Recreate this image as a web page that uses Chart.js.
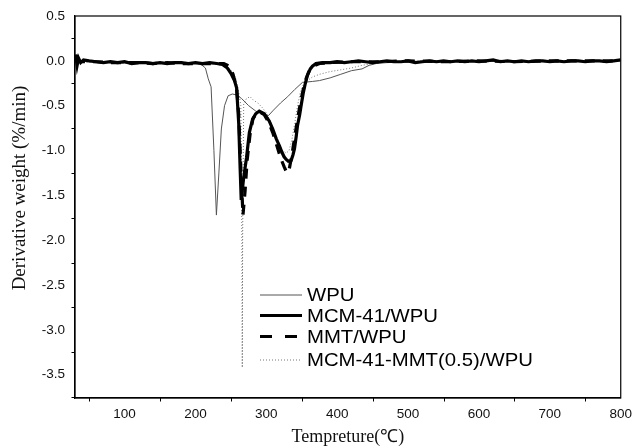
<!DOCTYPE html>
<html>
<head>
<meta charset="utf-8">
<script src="https://cdn.jsdelivr.net/npm/chart.js@4"></script>
<style>
html,body{margin:0;padding:0;background:#fff;}
#wrap{width:634px;height:448px;}
</style>
</head>
<body>
<div id="wrap"><canvas id="c" width="634" height="448"></canvas></div>
<script>
// ---- data ----
const seriesNames = ['WPU', 'MCM-41/WPU', 'MMT/WPU', 'MCM-41-MMT(0.5)/WPU'];

const wpuT = [30, 40, 50, 60, 80, 100, 120, 140, 160, 180,
  200, 208, 214, 218, 222, 226, 229.5, 233, 236.5, 241,
  246, 252, 258, 265, 275, 285, 295, 303, 310, 320,
  330, 340, 351, 365, 375, 390, 405, 420, 435, 445,
  455, 470, 500, 550, 600, 650, 700, 750, 800];
const wpuD = [0.02, -0.01, 0.0, -0.01, -0.02, -0.02, -0.03, -0.03, -0.02, -0.03,
  -0.03, -0.04, -0.08, -0.2, -0.29, -1.0, -1.72, -1.25, -0.76, -0.5,
  -0.39, -0.37, -0.38, -0.42, -0.5, -0.56, -0.6, -0.61, -0.55, -0.47,
  -0.4, -0.32, -0.24, -0.23, -0.22, -0.19, -0.15, -0.11, -0.09, -0.05,
  -0.03, -0.02, -0.01, 0.0, -0.01, 0.0, -0.01, 0.0, 0.0];

const mcmT = [30, 31, 33, 35, 38, 42, 50, 60, 70, 80,
  90, 100, 110, 120, 130, 140, 150, 160, 170, 180,
  190, 200, 210, 220, 230, 238, 245, 250, 255, 258,
  261, 263, 264.5, 266, 268, 272, 276, 280.6, 285, 290,
  297, 304, 309, 314, 318.6, 322, 325, 328, 331, 335,
  337.5, 339.7, 342, 344, 347, 349, 352, 355, 358, 362,
  365, 370, 379, 390, 400, 410, 420, 430, 440, 450,
  460, 470, 480, 490, 500, 510, 520, 530, 540, 550,
  560, 570, 580, 590, 600, 610, 620, 630, 640, 650,
  660, 670, 680, 690, 700, 710, 720, 730, 740, 750,
  760, 770, 780, 790, 800];
const mcmD = [0.02, 0.07, -0.05, 0.03, -0.02, 0.01, 0.0, -0.01, -0.02, -0.01,
  -0.02, -0.01, -0.03, -0.02, -0.02, -0.03, -0.02, -0.03, -0.02, -0.02,
  -0.03, -0.02, -0.03, -0.02, -0.03, -0.04, -0.08, -0.14, -0.22, -0.3,
  -0.7, -1.2, -1.55, -1.45, -1.3, -1.08, -0.8, -0.65, -0.59, -0.56,
  -0.59, -0.67, -0.76, -0.87, -0.95, -1.02, -1.07, -1.1, -1.12, -1.11,
  -1.05, -0.98, -0.85, -0.72, -0.6, -0.5, -0.36, -0.25, -0.16, -0.09,
  -0.06, -0.03, -0.02, -0.02, -0.01, -0.02, -0.01, 0.0, -0.01, -0.02,
  -0.01, 0.0, -0.01, -0.01, 0.0, -0.02, -0.01, 0.0, -0.01, 0.0,
  -0.01, 0.0, -0.01, 0.0, -0.01, 0.0, 0.01, -0.01, 0.0, -0.01,
  0.0, -0.01, 0.0, 0.0, -0.01, 0.0, -0.01, 0.0, 0.0, -0.01,
  0.0, 0.0, -0.01, 0.0, 0.01];

const mmtT = [30, 40, 60, 80, 100, 120, 140, 160, 180, 200,
  220, 240, 248, 253, 258, 261, 264, 267, 270, 273,
  277, 281, 286, 291, 297, 303, 309, 315, 320, 325,
  329, 332, 336, 340, 344, 348, 352, 356, 360, 366,
  375, 390, 420, 460, 500, 550, 600, 650, 700, 750, 800];
const mmtD = [0.0, -0.01, -0.01, -0.02, -0.02, -0.02, -0.03, -0.02, -0.03, -0.03,
  -0.03, -0.03, -0.06, -0.15, -0.3, -0.6, -1.2, -1.72, -1.45, -1.1,
  -0.82, -0.65, -0.58, -0.57, -0.6, -0.68, -0.8, -0.95, -1.08, -1.18,
  -1.25, -1.22, -1.05, -0.85, -0.65, -0.47, -0.32, -0.2, -0.12, -0.06,
  -0.03, -0.02, -0.01, -0.01, 0.0, -0.01, 0.0, -0.01, 0.0, 0.0, 0.0];

const mixT = [30, 40, 60, 80, 100, 120, 140, 160, 180, 200,
  220, 235, 245, 252, 257, 261, 264, 265.5, 266, 266.5,
  268, 272, 277, 282, 288, 294, 300, 306, 312, 318,
  323, 328, 332, 336, 340, 344, 348, 352, 358, 365,
  375, 390, 405, 420, 435, 450, 465, 480, 520, 560,
  600, 650, 700, 750, 800];
const mixD = [0.01, -0.02, -0.01, -0.02, -0.03, -0.02, -0.03, -0.03, -0.03, -0.02,
  -0.03, -0.04, -0.07, -0.12, -0.2, -0.35, -0.5, -2.0, -3.42, -2.0,
  -0.48, -0.42, -0.4, -0.44, -0.47, -0.52, -0.58, -0.68, -0.82, -0.93,
  -1.0, -1.03, -1.0, -0.88, -0.7, -0.5, -0.35, -0.27, -0.22, -0.18,
  -0.15, -0.12, -0.1, -0.08, -0.05, -0.03, -0.01, -0.01, 0.0, -0.01,
  0.0, -0.01, 0.0, -0.01, 0.0];

const xTickValues = [100, 200, 300, 400, 500, 600, 700, 800];
const xMinorValues = [50, 150, 250, 350, 450, 550, 650, 750];
const yTickValues = [0.5, 0.0, -0.5, -1.0, -1.5, -2.0, -2.5, -3.0, -3.5];
const yMinorValues = [0.25, -0.25, -0.75, -1.25, -1.75, -2.25, -2.75, -3.25, -3.75];

const xTitle = 'Tempreture(℃)';
const yTitle = 'Derivative weight (%/min)';

// ---- build ----
const pts = (T, D) => T.map((t, i) => ({x: t, y: D[i]}));
const styles = [
  {color: '#555', width: 1, dash: []},
  {color: '#000', width: 3.2, dash: []},
  {color: '#000', width: 3.2, dash: [10, 8]},
  {color: '#777', width: 1, dash: [1, 2]}
];
const dataSets = [
  {label: seriesNames[0], data: pts(wpuT, wpuD), order: 2},
  {label: seriesNames[1], data: pts(mcmT, mcmD), order: 0},
  {label: seriesNames[2], data: pts(mmtT, mmtD), order: 1},
  {label: seriesNames[3], data: pts(mixT, mixD), order: 3}
].map((d, i) => Object.assign(d, {
  borderColor: styles[i].color,
  borderWidth: styles[i].width,
  borderDash: styles[i].dash,
  pointRadius: 0,
  tension: 0,
  fill: false
}));

const frameAndTicks = {
  id: 'frameAndTicks',
  afterDraw(chart) {
    const {ctx, chartArea: a, scales} = chart;
    ctx.save();
    ctx.strokeStyle = '#000';
    ctx.lineWidth = 1.2;
    ctx.strokeRect(a.left, a.top, a.right - a.left, a.bottom - a.top);
    ctx.lineWidth = 1;
    ctx.beginPath();
    xMinorValues.forEach(v => {
      const px = Math.round(scales.x.getPixelForValue(v)) + 0.5;
      ctx.moveTo(px, a.bottom); ctx.lineTo(px, a.bottom + 3.5);
    });
    yMinorValues.forEach(v => {
      const py = Math.round(scales.y.getPixelForValue(v)) + 0.5;
      if (py > a.bottom + 1) return;
      ctx.moveTo(a.left, py); ctx.lineTo(a.left - 3.5, py);
    });
    ctx.stroke();
    // y-axis title (placed slightly above centre, as in the original)
    ctx.save();
    ctx.translate(20, a.top + 172);
    ctx.rotate(-Math.PI / 2);
    ctx.font = '19px "Liberation Serif", "Times New Roman", serif';
    ctx.fillStyle = '#111';
    ctx.textAlign = 'center';
    ctx.textBaseline = 'middle';
    ctx.fillText(yTitle, 0, 0);
    ctx.restore();
    // legend
    const lx0 = a.left + 185, lx1 = a.left + 227, tx = a.left + 232;
    const rows = [279, 299.5, 320.5, 344];
    ctx.font = '19px "Liberation Sans", Arial, sans-serif';
    ctx.textBaseline = 'middle';
    ctx.fillStyle = '#000';
    [0, 1, 2, 3].forEach((k, r) => {
      const y = a.top + rows[r];
      ctx.beginPath();
      ctx.strokeStyle = styles[k].color;
      ctx.lineWidth = styles[k].width;
      ctx.setLineDash(k === 2 ? [12, 13] : styles[k].dash);
      ctx.moveTo(lx0, y); ctx.lineTo(lx1, y);
      ctx.stroke();
      ctx.setLineDash([]);
      ctx.save();
      ctx.translate(tx, y + 1);
      ctx.scale(1.07, 1);
      ctx.fillText(seriesNames[k], 0, 0);
      ctx.restore();
    });
    ctx.restore();
  }
};

new Chart(document.getElementById('c'), {
  type: 'line',
  data: {datasets: dataSets},
  options: {
    responsive: false,
    animation: false,
    layout: {padding: {left: 0, right: 12, top: 16, bottom: 0}},
    plugins: {legend: {display: false}, tooltip: {enabled: false}},
    scales: {
      x: {
        type: 'linear', min: 30, max: 800,
        afterBuildTicks: s => { s.ticks = xTickValues.map(v => ({value: v})); },
        afterFit: s => { s.height = 50; },
        grid: {display: false, drawOnChartArea: false, drawTicks: true, tickLength: 6, tickColor: '#000'},
        border: {display: true, color: '#000', width: 1.2},
        ticks: {color: '#111', font: {family: '"Liberation Sans", Arial, sans-serif', size: 13.5}, padding: 2, maxRotation: 0, callback: v => String(v)},
        title: {display: true, text: xTitle, color: '#111', font: {family: '"Liberation Serif", "Times New Roman", serif', size: 18}, padding: {top: 0, bottom: 0}}
      },
      y: {
        type: 'linear', min: -3.76, max: 0.5,
        afterBuildTicks: s => { s.ticks = yTickValues.map(v => ({value: v})); },
        afterFit: s => { s.width = 75; },
        grid: {display: false, drawOnChartArea: false, drawTicks: true, tickLength: 6, tickColor: '#000'},
        border: {display: true, color: '#000', width: 1.2},
        ticks: {color: '#111', font: {family: '"Liberation Sans", Arial, sans-serif', size: 13.5}, padding: 4, callback: v => v.toFixed(1)},
        title: {display: false}
      }
    }
  },
  plugins: [frameAndTicks]
});
</script>
</body>
</html>
